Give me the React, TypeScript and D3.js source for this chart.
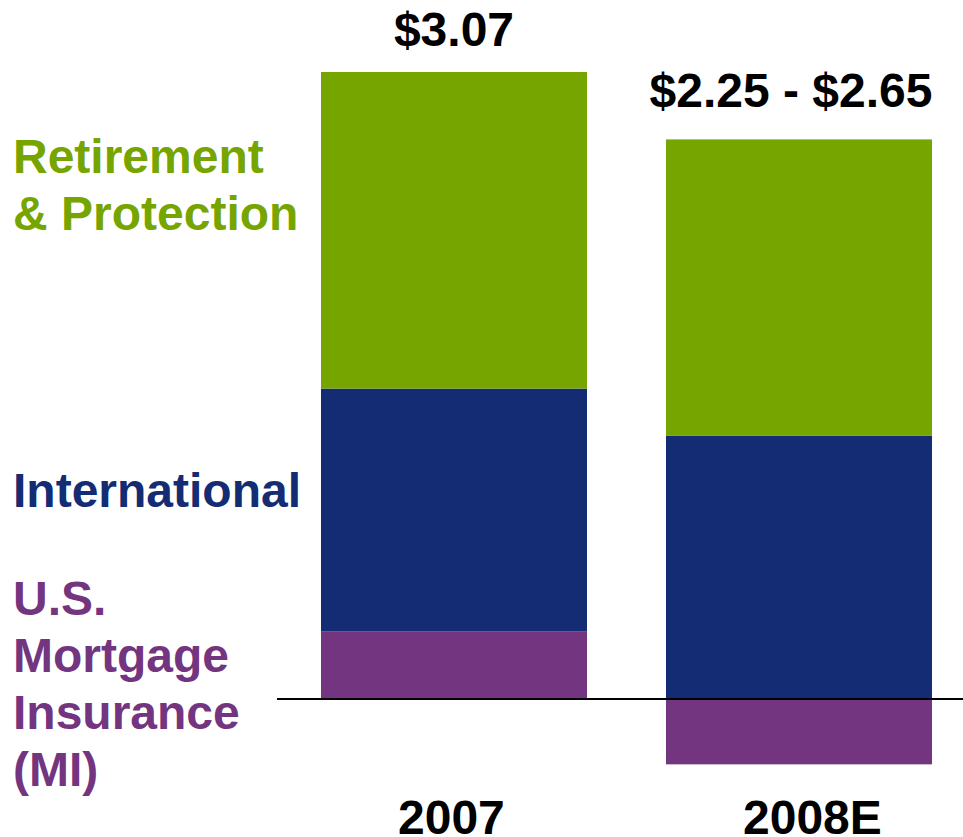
import React, { useEffect, useRef } from 'react';
import * as d3 from 'd3';

// Earnings per share by segment ($)
const years = ['2007', '2008E'];
const segments = ['MI', 'International', 'Retirement'];
const miValues = [0.33, -0.32];
const internationalValues = [1.19, 1.29];
const retirementValues = [1.55, 1.45];
const totalLabels = ['$3.07', '$2.25 - $2.65'];

const segmentColors = ['#73357f', '#132c73', '#76a500'];
const legendLines = [
    ['Retirement', '& Protection'],
    ['International'],
    ['U.S.', 'Mortgage', 'Insurance', '(MI)'],
];

const App = () => {
    const svgRef = useRef<SVGSVGElement>(null);

    useEffect(() => {
        const svg = d3.select(svgRef.current);
        svg.selectAll('*').remove();

        const width = 963;
        const height = 837;
        const font = "'Liberation Sans', Arial, Helvetica, sans-serif";
        const fontSize = 48;

        svg.attr('width', width).attr('height', height);

        const rows = years.map((year, i) => ({
            year,
            MI: miValues[i],
            International: internationalValues[i],
            Retirement: retirementValues[i],
        }));

        const stacked = d3.stack<any>()
            .keys(segments)
            .offset(d3.stackOffsetDiverging)(rows);

        const xScale = d3.scaleBand()
            .domain(years)
            .range([321, 932])
            .paddingInner(0.229)
            .paddingOuter(0);

        const yScale = d3.scaleLinear()
            .domain([0, 3.07])
            .range([699, 72]);

        const color = d3.scaleOrdinal<string>().domain(segments).range(segmentColors);

        // bars
        svg.append('g')
            .selectAll('g')
            .data(stacked)
            .join('g')
            .attr('fill', d => color(d.key))
            .selectAll('rect')
            .data(d => d)
            .join('rect')
            .attr('x', d => xScale(d.data.year) as number)
            .attr('y', d => yScale(Math.max(d[0], d[1])))
            .attr('width', xScale.bandwidth())
            .attr('height', d => Math.abs(yScale(d[0]) - yScale(d[1])));

        // zero line
        svg.append('line')
            .attr('x1', 277)
            .attr('x2', width)
            .attr('y1', yScale(0))
            .attr('y2', yScale(0))
            .attr('stroke', '#000')
            .attr('stroke-width', 2);

        // totals above bars
        const topOffsets = [26, 32];
        svg.append('g')
            .selectAll('text')
            .data(years)
            .join('text')
            .attr('x', (d, i) => (xScale(d) as number) + xScale.bandwidth() / 2 + (i === 1 ? -8 : 0))
            .attr('y', (d, i) => {
                const top = d3.max(stacked, s => s[i][1]) as number;
                return yScale(top) - topOffsets[i];
            })
            .attr('text-anchor', 'middle')
            .attr('font-family', font)
            .attr('font-weight', 'bold')
            .attr('font-size', fontSize)
            .attr('fill', '#000')
            .text((d, i) => totalLabels[i]);

        // year labels
        svg.append('g')
            .selectAll('text')
            .data(years)
            .join('text')
            .attr('x', d => (xScale(d) as number) + 77)
            .attr('y', 834)
            .attr('font-family', font)
            .attr('font-weight', 'bold')
            .attr('font-size', fontSize)
            .attr('fill', '#000')
            .text(d => d);

        // segment labels on the left
        const legendBaselines = [173, 507, 615];
        const legendColors = [segmentColors[2], segmentColors[1], segmentColors[0]];
        legendLines.forEach((lines, i) => {
            const t = svg.append('text')
                .attr('x', 13)
                .attr('y', legendBaselines[i])
                .attr('font-family', font)
                .attr('font-weight', 'bold')
                .attr('font-size', fontSize)
                .attr('fill', legendColors[i]);
            t.selectAll('tspan')
                .data(lines)
                .join('tspan')
                .attr('x', 13)
                .attr('dy', (d, j) => (j === 0 ? 0 : 57))
                .text(d => d);
        });
    }, []);

    return (
        <div style={{ position: 'absolute', left: 0, top: 0 }}>
            <svg ref={svgRef}></svg>
        </div>
    );
};

export default App;
